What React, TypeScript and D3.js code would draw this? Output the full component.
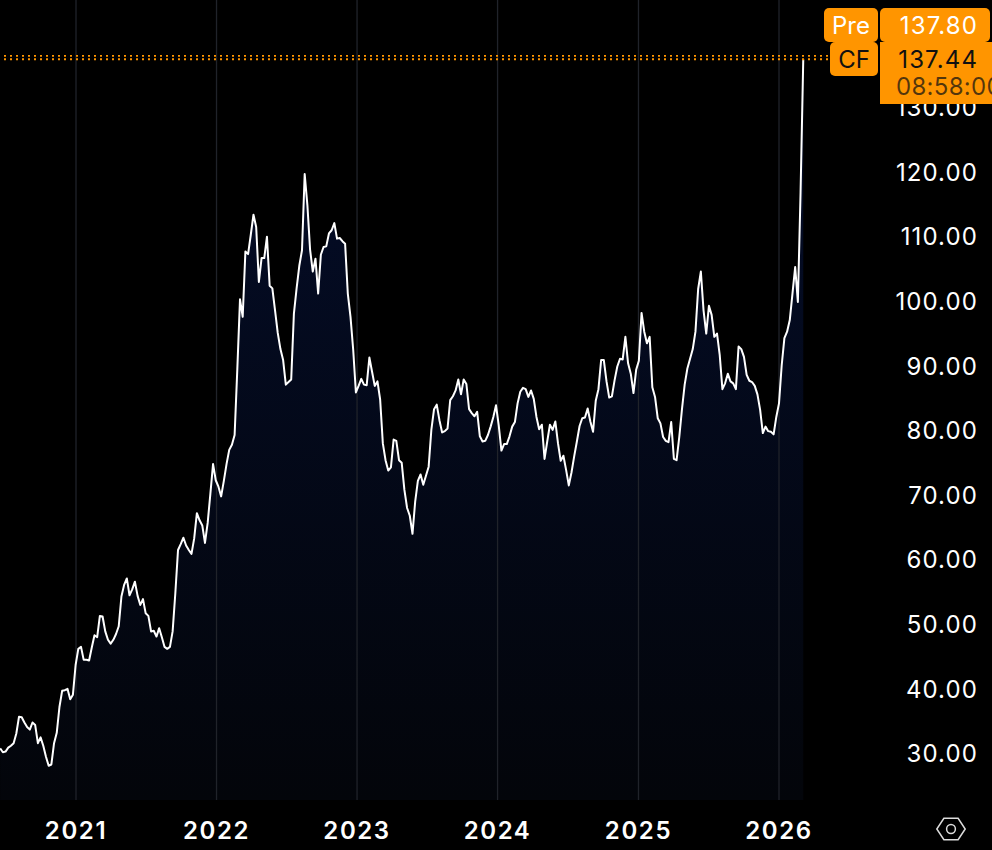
import * as d3 from "d3";

// weekly closes
const START_DATE = new Date(2020, 5, 18);
const closes = [
  30.8, 30.2, 30.3, 30.9, 31.2, 31.6, 33.1, 35.7, 35.6, 34.8, 34.1, 33.7, 34.8, 34.4, 31.6, 32.5,
  31.2, 29.5, 28.1, 28.3, 31.6, 33.2, 37.2, 39.7, 39.8, 40.0, 38.4, 39.1, 43.7, 46.2, 46.5, 44.5,
  44.5, 44.4, 46.4, 48.3, 48.0, 51.3, 51.2, 48.9, 47.6, 47.0, 47.6, 48.5, 49.7, 54.3, 56.1, 57.1,
  54.5, 55.4, 56.6, 54.4, 53.0, 53.9, 51.7, 51.3, 48.9, 49.0, 48.1, 49.4, 48.0, 46.5, 46.2, 46.5,
  48.9, 54.8, 61.5, 62.4, 63.4, 62.2, 61.5, 60.9, 63.3, 67.2, 66.1, 65.3, 62.6, 65.7, 70.2, 74.8,
  72.3, 71.3, 69.8, 72.2, 74.8, 77.0, 77.8, 79.3, 89.5, 100.3, 97.6, 107.7, 107.3, 110.3, 113.4, 111.5,
  103.0, 106.7, 106.7, 110.0, 102.4, 102.0, 98.6, 95.1, 92.6, 90.9, 87.1, 87.5, 87.9, 98.1, 102.0, 105.5,
  107.9, 119.7, 114.9, 108.0, 104.6, 106.6, 101.2, 107.2, 108.4, 108.5, 110.5, 111.0, 112.1, 109.7, 109.8, 109.3,
  108.9, 101.2, 97.6, 92.5, 85.9, 86.9, 88.0, 87.1, 87.0, 91.3, 89.1, 86.9, 87.6, 84.8, 78.0, 75.4,
  73.8, 74.3, 78.6, 78.4, 75.4, 75.0, 70.8, 68.0, 66.8, 64.0, 69.0, 72.2, 73.2, 71.6, 73.0, 74.4,
  80.1, 83.3, 84.0, 81.6, 79.7, 79.9, 80.3, 84.7, 85.3, 86.2, 87.9, 85.6, 87.9, 87.2, 83.3, 82.7,
  82.2, 82.9, 79.1, 78.3, 78.4, 79.3, 80.6, 82.1, 83.9, 80.8, 76.9, 77.9, 77.9, 79.1, 80.6, 81.3,
  84.2, 86.0, 86.6, 86.4, 85.2, 86.2, 84.9, 82.1, 80.2, 80.9, 75.6, 78.3, 80.9, 80.1, 81.4, 78.0,
  75.3, 76.1, 73.9, 71.5, 73.5, 76.0, 78.3, 80.7, 81.9, 82.0, 83.4, 81.4, 79.8, 84.6, 86.4, 90.9,
  90.9, 87.6, 85.1, 85.3, 87.8, 89.9, 91.1, 91.0, 94.5, 90.4, 88.8, 85.8, 89.4, 90.8, 98.2, 95.3,
  93.5, 94.5, 86.7, 85.2, 81.9, 81.1, 79.0, 78.4, 78.2, 81.3, 75.6, 75.4, 79.0, 83.3, 87.1, 89.6,
  91.1, 92.6, 95.3, 101.9, 104.6, 98.6, 95.0, 99.3, 97.9, 94.5, 95.0, 91.7, 86.4, 87.3, 88.8, 87.6,
  87.3, 86.4, 93.0, 92.6, 91.4, 88.6, 87.7, 87.5, 86.9, 85.6, 83.2, 79.6, 80.6, 79.9, 79.8, 79.4,
  82.1, 84.2, 90.1, 94.3, 95.3, 97.1, 101.2, 105.3, 99.9, 116.8, 137.44,
];
const priceTicks = [30, 40, 50, 60, 70, 80, 90, 100, 110, 120, 130];
const yearTicks = [2021, 2022, 2023, 2024, 2025, 2026];
const PRE_PRICE = 137.8;
const CF_PRICE = 137.44;
const SESSION_TIME = "08:58:00";

const WIDTH = 992;
const HEIGHT = 850;
const PLOT_BOTTOM = 800;
const ORANGE = "#ff9500";
const FONT = "Inter, Roboto, sans-serif";

const rows = closes.map((value, i) => ({ date: d3.timeWeek.offset(START_DATE, i), value }));

const x = d3
  .scaleTime()
  .domain([new Date(2021, 0, 1), new Date(2026, 0, 1)])
  .range([76, 779]);

const y = d3.scaleLinear().domain([30, 130]).range([753.5, 107.5]);

type Row = (typeof rows)[number];

const linePath = d3
  .line<Row>()
  .x((d) => x(d.date))
  .y((d) => y(d.value))(rows)!;

const areaPath = d3
  .area<Row>()
  .x((d) => x(d.date))
  .y0(PLOT_BOTTOM)
  .y1((d) => y(d.value))(rows)!;

const hexagon = d3.range(6).map((i) => {
  const a = (i * Math.PI) / 3;
  return `${951 + 14.2 * Math.cos(a)},${829 + 12.4 * Math.sin(a)}`;
});

export default function App() {
  return (
    <svg
      width={WIDTH}
      height={HEIGHT}
      viewBox={`0 0 ${WIDTH} ${HEIGHT}`}
      style={{ position: "absolute", left: 0, top: 0, background: "#000", fontFamily: FONT }}
    >
      <defs>
        <linearGradient id="areaFill" gradientUnits="userSpaceOnUse" x1="0" y1="58" x2="0" y2={PLOT_BOTTOM}>
          <stop offset="0" stopColor="#040d2a" />
          <stop offset="1" stopColor="#03050a" />
        </linearGradient>
      </defs>

      <path d={areaPath} fill="url(#areaFill)" />

      {/* Year grid */}
      {yearTicks.map((year) => (
        <line
          key={year}
          x1={x(new Date(year, 0, 1))}
          x2={x(new Date(year, 0, 1))}
          y1={0}
          y2={PLOT_BOTTOM}
          stroke="#20232a"
          strokeWidth={1.3}
        />
      ))}

      <path d={linePath} fill="none" stroke="#fff" strokeWidth={2} strokeLinejoin="round" />

      {/* Price lines */}
      {[y(PRE_PRICE) - 1.2, y(CF_PRICE) - 0.2].map((py) => (
        <line
          key={py}
          x1={4}
          x2={829}
          y1={py}
          y2={py}
          stroke={ORANGE}
          strokeWidth={1.8}
          strokeDasharray="2 4"
        />
      ))}

      {/* Price axis */}
      {priceTicks.map((tick) => (
        <text
          key={tick}
          x={978}
          y={y(tick)}
          dy="0.36em"
          textAnchor="end"
          fill="#fff"
          fontSize={24}
          letterSpacing={1.1}
        >
          {tick.toFixed(2)}
        </text>
      ))}

      {/* Time axis */}
      {yearTicks.map((year) => (
        <text
          key={year}
          x={x(new Date(year, 0, 1))}
          y={830}
          dy="0.36em"
          textAnchor="middle"
          fill="#fff"
          fontSize={24}
          fontWeight={600}
          letterSpacing={1.6}
        >
          {year}
        </text>
      ))}

      {/* Settings icon */}
      <polygon points={hexagon.join(" ")} fill="none" stroke="#dcdcdc" strokeWidth={1.5} />
      <circle cx={951} cy={829} r={4.4} fill="none" stroke="#dcdcdc" strokeWidth={1.5} />

      {/* Price badges */}
      <rect x={824} y={8} width={54} height={34} rx={5} fill={ORANGE} />
      <rect x={880} y={8} width={110} height={34} rx={5} fill={ORANGE} />
      <rect x={830} y={42} width={48} height={34} rx={5} fill={ORANGE} />
      <rect x={880} y={42} width={112} height={62} fill={ORANGE} />

      <text x={851} y={25} dy="0.36em" textAnchor="middle" fill="#fff" fontSize={24}>
        Pre
      </text>
      <text x={978} y={25} dy="0.36em" textAnchor="end" fill="#fff" fontSize={24} letterSpacing={1.1}>
        {PRE_PRICE.toFixed(2)}
      </text>
      <text x={854} y={59} dy="0.36em" textAnchor="middle" fill="#111" fontSize={24}>
        CF
      </text>
      <text x={978} y={59} dy="0.36em" textAnchor="end" fill="#111" fontSize={24} letterSpacing={1.1}>
        {CF_PRICE.toFixed(2)}
      </text>
      <text x={896} y={86} dy="0.36em" fill="#111" fillOpacity={0.72} fontSize={24} letterSpacing={0.3}>
        {SESSION_TIME}
      </text>
    </svg>
  );
}
